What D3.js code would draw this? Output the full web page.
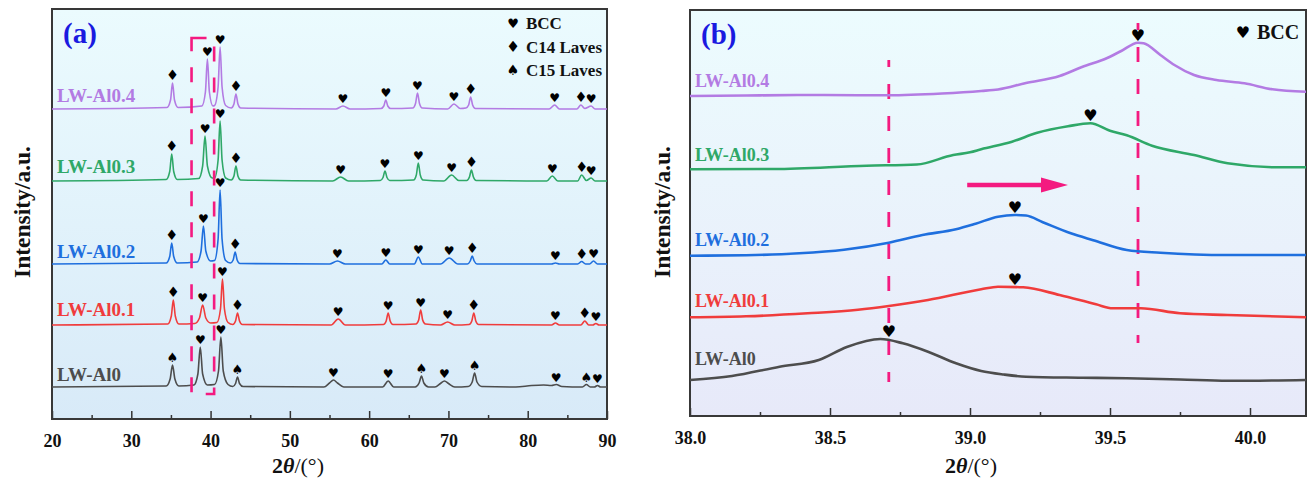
<!doctype html>
<html>
<head>
<meta charset="utf-8">
<title>XRD LW-Al</title>
<style>
body { margin:0; background:#fff; }
svg { display:block; }
text { font-family:"Liberation Serif","Times New Roman",serif; font-weight:bold; }
.glyph { font-family:"DejaVu Sans",sans-serif; font-weight:normal; }
</style>
</head>
<body>
<svg width="1312" height="479" id="chart"></svg>
<script src="https://d3js.org/d3.v7.min.js"></script>
<script>
// series names / colours (bottom to top)
var names  = ["LW-Al0", "LW-Al0.1", "LW-Al0.2", "LW-Al0.3", "LW-Al0.4"];
var colors = ["#4d4d4d", "#f03c3c", "#1f6fde", "#2fa868", "#b37be3"];

// (a) full scans: [2theta, intensity above own baseline]
var a_Al0 = [[20,0],[34.4,1],[34.9,8],[35.2,22],[35.5,8],[36,1],[37.9,2],[38.4,13],[38.7,40],[39,13],[39.6,2],
  [40.5,2.5],[41,16],[41.3,50],[41.6,16],[42.2,2.5],[42.8,0.5],[43.15,3.5],[43.4,10],[43.65,3.5],[44.1,0.5],
  [54.3,0],[55,4],[55.5,7],[56,4],[56.8,0],[61.7,0],[62.4,6],[63.1,0],[65.8,0],[66.3,4],[66.6,11],[66.9,4],[67.5,0],
  [68.3,0],[69,3.5],[69.5,6],[70,3.5],[70.8,0],[72.5,0.5],[73,5],[73.3,14],[73.6,5],[74.2,0.5],
  [78.5,0],[80.5,1.5],[82,2],[83,1.5],[83.6,2.5],[84.3,0.5],[86.9,0],[87.4,2.5],[87.9,0],[88.4,0],[88.8,1.5],[89.2,0],[90,0]];
var a_Al01 = [[20,0],[34.6,1],[35.05,9],[35.3,25],[35.55,9],[36,1],[38,1.5],[38.6,7],[39,20],[39.4,7],[40,2],
  [40.8,2.5],[41.25,16],[41.5,46],[41.75,16],[42.2,2.5],[42.8,0.5],[43.15,4],[43.4,12],[43.65,4],[44,0.5],
  [55.2,0],[56.1,6],[57,0],[61.8,0.5],[62.15,4],[62.4,12],[62.65,4],[63,0.5],[65.9,1],[66.25,5],[66.5,15],[66.75,5],[67.1,1],
  [69,0],[69.9,3],[70.8,0],[72.6,0.5],[72.95,4],[73.2,12],[73.45,4],[73.8,0.5],
  [83,0],[83.5,2],[84,0],[86.7,0],[87.2,4],[87.7,0],[88.2,0],[88.6,1.5],[89,0],[90,0]];
var a_Al02 = [[20,0],[34.4,1],[34.85,7.5],[35.1,21],[35.35,7.5],[35.8,1],[38.3,2],[38.8,13],[39.1,38],[39.4,13],[40,3],
  [40.5,3.5],[40.95,25],[41.2,74],[41.45,25],[41.9,3.5],[42.5,1],[42.85,4],[43.1,12],[43.35,4],[43.7,0.5],
  [55,0],[56,3],[57,0],[61.6,0],[62.1,4],[62.6,0],[65.7,0],[66.2,7],[66.7,0],[69,0],[70.1,6],[71.2,0],
  [72.4,0],[72.75,3],[73,8],[73.25,3],[73.6,0],[83,0],[83.5,1],[84,0],[86.3,0],[86.8,2.5],[87.3,0],[87.8,0],[88.3,3],[88.8,0],[90,0]];
var a_Al03 = [[20,0],[34.4,1.5],[34.85,9.5],[35.1,27],[35.35,9.5],[35.8,1.5],[38.5,2.5],[39,15],[39.3,45],[39.6,15],[40.2,3],
  [40.5,3],[40.95,21],[41.2,60],[41.45,21],[41.9,3],[42.6,1],[42.95,5],[43.2,15],[43.45,5],[43.8,1],
  [55.4,0],[56.4,4],[57.4,0],[61.4,0.5],[61.75,3.5],[62,10],[62.25,3.5],[62.6,0.5],[65.6,1],[65.95,6],[66.2,18],[66.45,6],[66.8,1],
  [69.4,0],[70.4,6],[71.3,0.5],[72.3,0.5],[72.65,4],[72.9,11],[73.15,4],[73.5,0.5],
  [82.4,0],[83.1,5],[83.8,0],[86.3,0],[86.8,6],[87.4,0.5],[88,3],[88.5,0],[90,0]];
var a_Al04 = [[20,0],[34.5,1.5],[34.95,9],[35.2,26],[35.45,9],[35.9,1.5],[38.9,3],[39.35,17],[39.6,50],[39.85,17],[40.3,3],
  [40.5,3.5],[40.95,22],[41.2,62],[41.45,22],[41.9,3.5],[42.6,1],[42.95,5],[43.2,15],[43.45,5],[43.8,1],
  [55.8,0],[56.7,3],[57.6,0],[61.5,0.5],[61.85,3],[62.1,9],[62.35,3],[62.7,0.5],[65.5,1],[65.85,5.5],[66.1,16],[66.35,5.5],[66.7,1],
  [69.9,0],[70.7,5],[71.5,0.5],[72.2,1],[72.55,4],[72.8,12],[73.05,4],[73.4,0.5],
  [82.7,0],[83.4,4],[84,0],[86.2,0],[86.7,4],[87.2,0.5],[88,3],[88.5,0],[90,0]];
var seriesA = [a_Al0, a_Al01, a_Al02, a_Al03, a_Al04];
var offsetsA = [32, 94, 155, 238, 310];
var labelLevelA = [38, 103, 161, 246, 317];

// phase markers per series: [2theta, phase]
var mk_Al0  = [[35.2,"C15"],[38.7,"BCC"],[41.3,"BCC"],[43.4,"C15"],[55.5,"BCC"],[62.4,"BCC"],[66.6,"C15"],[69.5,"BCC"],[73.3,"C15"],[83.6,"BCC"],[87.4,"C15"],[88.8,"BCC"]];
var mk_Al01 = [[35.3,"C14"],[39.0,"BCC"],[41.5,"BCC"],[43.4,"C14"],[56.1,"BCC"],[62.4,"BCC"],[66.5,"BCC"],[69.9,"BCC"],[73.2,"C14"],[83.5,"BCC"],[87.2,"C14"],[88.6,"BCC"]];
var mk_Al02 = [[35.1,"C14"],[39.1,"BCC"],[41.2,"BCC"],[43.1,"C14"],[56.0,"BCC"],[62.1,"BCC"],[66.2,"BCC"],[70.1,"BCC"],[73.0,"C14"],[83.5,"BCC"],[86.8,"C14"],[88.3,"BCC"]];
var mk_Al03 = [[35.1,"C14"],[39.3,"BCC"],[41.2,"BCC"],[43.2,"C14"],[56.4,"BCC"],[62.0,"BCC"],[66.2,"BCC"],[70.4,"BCC"],[72.9,"C14"],[83.1,"BCC"],[86.8,"C14"],[88.0,"BCC"]];
var mk_Al04 = [[35.2,"C14"],[39.6,"BCC"],[41.2,"BCC"],[43.2,"C14"],[56.7,"BCC"],[62.1,"BCC"],[66.1,"BCC"],[70.7,"BCC"],[72.8,"C14"],[83.4,"BCC"],[86.7,"C14"],[88.0,"BCC"]];
var markersA = [mk_Al0, mk_Al01, mk_Al02, mk_Al03, mk_Al04];

var phases = ["BCC", "C14", "C15"];
var phaseLabels = ["BCC", "C14 Laves", "C15 Laves"];
var phaseGlyph = {BCC:"\u2665", C14:"\u2666", C15:"\u2660"};
var glyphScale = {BCC:1, C14:1.2, C15:1.1};

var ticksA = [20, 30, 40, 50, 60, 70, 80, 90];

// (b) zoom on BCC(110): [2theta, intensity above own baseline]
var b_Al0  = [[38,0],[38.15,4],[38.32,13.3],[38.46,20],[38.56,33],[38.68,41],[38.76,36.7],[38.85,28.3],[38.95,16.7],[39.04,9],[39.12,5.5],[39.2,3.3],[39.4,2.3],[39.56,1.7],[39.75,0.5],[39.92,-0.8],[40.2,0]];
var b_Al01 = [[38,0],[38.2,1],[38.42,4],[38.6,7.5],[38.71,11.3],[38.85,17.3],[39.04,28],[39.1,30.6],[39.19,30],[39.32,22.3],[39.45,13],[39.51,9],[39.61,9],[39.75,4],[39.92,2.3],[40.2,0]];
var b_Al02 = [[38,0],[38.2,0.5],[38.39,2.4],[38.55,6],[38.71,13],[38.83,20.7],[38.95,26.5],[39.02,32],[39.1,39],[39.16,40.7],[39.2,40.2],[39.26,33.5],[39.36,22.4],[39.44,15.5],[39.56,5.7],[39.68,3],[39.92,0.7],[40.2,0.7]];
var b_Al03 = [[38,0],[38.3,0.3],[38.63,3.6],[38.81,4.8],[38.94,14.3],[39.0,17],[39.04,20],[39.15,27.6],[39.24,36.5],[39.35,43],[39.43,46],[39.5,38.5],[39.56,34],[39.65,23.5],[39.8,14.3],[39.92,6],[40.1,2],[40.2,2]];
var b_Al04 = [[38,0],[38.2,0.5],[38.4,1],[38.6,0.8],[38.71,0.7],[38.9,2.5],[39.04,5],[39.1,6.5],[39.2,13],[39.32,20],[39.4,29],[39.49,38],[39.54,45],[39.6,53.3],[39.62,52.7],[39.68,41],[39.73,31],[39.8,21],[39.88,16],[39.98,12.7],[40.08,6.7],[40.2,4.3]];
var seriesB = [b_Al0, b_Al01, b_Al02, b_Al03, b_Al04];
var offsetsB = [36, 98.7, 160.3, 246.7, 320];
var labelLevelB = [51, 109, 170, 255, 329];
var peaksB = [38.71, 39.16, 39.16, 39.43, 39.6];
var refLinesB = [[38.71, 356, 34], [39.6, 393, 73]];   // 2theta, top, bottom (intensity units)
var shiftArrow = [38.99, 39.35, 231];

var ticksB = [38.0, 38.5, 39.0, 39.5, 40.0];

var svg = d3.select("#chart");
var defs = svg.append("defs");
var pink = "#f41a80";

function grad(id, c0, c1) {
  var g = defs.append("linearGradient").attr("id", id).attr("x1", 0).attr("y1", 0).attr("x2", 0).attr("y2", 1);
  g.append("stop").attr("offset", "0%").attr("stop-color", c0);
  g.append("stop").attr("offset", "100%").attr("stop-color", c1);
}
grad("bgA", "#ebfbfe", "#d8eaf8");
grad("bgB", "#ecfcfe", "#e7e9f9");

function panel(opt) {
  var x = d3.scaleLinear().domain(opt.xdom).range([opt.x0, opt.x1]);
  var y = d3.scaleLinear().domain([0, opt.y0 - opt.y1]).range([opt.y0, opt.y1]);
  var g = svg.append("g");
  g.append("rect").attr("x", opt.x0).attr("y", opt.y1).attr("width", opt.x1 - opt.x0).attr("height", opt.y0 - opt.y1)
    .attr("fill", "url(#" + opt.bg + ")");
  defs.append("clipPath").attr("id", opt.id + "clip").append("rect")
    .attr("x", opt.x0).attr("y", opt.y1).attr("width", opt.x1 - opt.x0).attr("height", opt.y0 - opt.y1);

  // axis with inward ticks
  var axis = d3.axisBottom(x).tickValues(opt.ticks).tickSize(-8).tickPadding(15).tickFormat(opt.fmt);
  var ax = g.append("g").attr("transform", "translate(0," + opt.y0 + ")").call(axis)
    .attr("font-family", "Liberation Serif");
  ax.select(".domain").remove();
  ax.selectAll(".tick line").attr("stroke", "#333").attr("stroke-width", 1.5);
  ax.selectAll(".tick text").attr("font-size", 18).attr("fill", "#111")
    .style("font-family", "Liberation Serif").style("font-weight", "bold");
  var minor = d3.axisBottom(x).tickValues(opt.minor).tickSize(-4).tickFormat("");
  var mx = g.append("g").attr("transform", "translate(0," + opt.y0 + ")").call(minor);
  mx.select(".domain").remove();
  mx.selectAll(".tick line").attr("stroke", "#333").attr("stroke-width", 1.5);

  g.append("rect").attr("x", opt.x0).attr("y", opt.y1).attr("width", opt.x1 - opt.x0).attr("height", opt.y0 - opt.y1)
    .attr("fill", "none").attr("stroke", "#383838").attr("stroke-width", 2);
  return {x: x, y: y, g: g};
}

function glyph(g, px, py, ph, size) {
  g.append("text").attr("class", "glyph").attr("x", px).attr("y", py)
    .attr("text-anchor", "middle").attr("font-size", size * glyphScale[ph]).attr("fill", "#000").text(phaseGlyph[ph]);
}

function peakTop(data, t, w) {
  return d3.max(data.filter(function(d) { return Math.abs(d[0] - t) <= w; }), function(d) { return d[1]; });
}

// ---------- panel (a)
var A = panel({id: "a", xdom: [20, 90], x0: 52, x1: 607, y0: 419, y1: 9, bg: "bgA",
  ticks: ticksA, minor: [25, 35, 45, 55, 65, 75, 85], fmt: d3.format("d")});

var lineA = function(off) {
  return d3.line().x(function(d) { return A.x(d[0]); }).y(function(d) { return A.y(d[1] + off); }).curve(d3.curveMonotoneX);
};
var ga = A.g.append("g").attr("clip-path", "url(#aclip)");
seriesA.forEach(function(s, i) {
  ga.append("path").datum(s).attr("d", lineA(offsetsA[i])).attr("fill", "none")
    .attr("stroke", colors[i]).attr("stroke-width", 1.6).attr("stroke-linejoin", "round");
});
markersA.forEach(function(list, i) {
  list.forEach(function(m) {
    var top = peakTop(seriesA[i], m[0], 0.35);
    glyph(A.g, A.x(m[0]), A.y(top + offsetsA[i]) - 3, m[1], 12);
  });
});
names.forEach(function(n, i) {
  A.g.append("text").attr("x", 57).attr("y", A.y(labelLevelA[i])).attr("font-size", 19)
    .attr("fill", colors[i]).text(n);
});
// dashed box around BCC(110)
A.g.append("rect").attr("x", A.x(37.6)).attr("y", A.y(381)).attr("width", A.x(40.45) - A.x(37.6))
  .attr("height", A.y(25) - A.y(381)).attr("fill", "none").attr("stroke", pink)
  .attr("stroke-width", 2.6).attr("stroke-dasharray", "15,16");
// legend
phases.forEach(function(p, k) {
  var cy = 23 + k * 23.6;
  glyph(A.g, 513, cy + 5, p, 13);
  A.g.append("text").attr("x", 526).attr("y", cy + 6).attr("font-size", 17).attr("fill", "#111").text(phaseLabels[k]);
});
A.g.append("text").attr("x", 63).attr("y", 43).attr("font-size", 29).attr("fill", "#1a1ae0").text("(a)");

// ---------- panel (b)
var B = panel({id: "b", xdom: [38, 40.2], x0: 690, x1: 1306, y0: 416, y1: 10, bg: "bgB",
  ticks: ticksB, minor: [38.25, 38.75, 39.25, 39.75], fmt: d3.format(".1f")});

var lineB = function(off) {
  return d3.line().x(function(d) { return B.x(d[0]); }).y(function(d) { return B.y(d[1] + off); }).curve(d3.curveMonotoneX);
};
refLinesB.forEach(function(r) {
  B.g.append("line").attr("x1", B.x(r[0])).attr("x2", B.x(r[0])).attr("y1", B.y(r[1])).attr("y2", B.y(r[2]))
    .attr("stroke", pink).attr("stroke-width", 2.8).attr("stroke-dasharray", "15,17").attr("stroke-dashoffset", 8);
});
var gb = B.g.append("g").attr("clip-path", "url(#bclip)");
seriesB.forEach(function(s, i) {
  gb.append("path").datum(s).attr("d", lineB(offsetsB[i])).attr("fill", "none")
    .attr("stroke", colors[i]).attr("stroke-width", 2.6).attr("stroke-linejoin", "round");
});
peaksB.forEach(function(t, i) {
  var top = peakTop(seriesB[i], t, 0.06);
  glyph(B.g, B.x(t), B.y(top + offsetsB[i]) - 2, "BCC", 16);
});
names.forEach(function(n, i) {
  B.g.append("text").attr("x", 695).attr("y", B.y(labelLevelB[i])).attr("font-size", 18)
    .attr("fill", colors[i]).text(n);
});
// shift arrow
var ay = B.y(shiftArrow[2]);
B.g.append("line").attr("x1", B.x(shiftArrow[0])).attr("x2", B.x(shiftArrow[1]) - 20).attr("y1", ay).attr("y2", ay)
  .attr("stroke", pink).attr("stroke-width", 4.5);
B.g.append("path").attr("fill", pink)
  .attr("d", "M" + (B.x(shiftArrow[1]) - 27) + "," + (ay - 7.5) + "L" + B.x(shiftArrow[1]) + "," + ay + "L" + (B.x(shiftArrow[1]) - 27) + "," + (ay + 7.5) + "Z");
glyph(B.g, 1243, 38, "BCC", 16);
B.g.append("text").attr("x", 1257).attr("y", 39).attr("font-size", 20).attr("fill", "#111").text("BCC");
B.g.append("text").attr("x", 701).attr("y", 44).attr("font-size", 29).attr("fill", "#1a1ae0").text("(b)");

// axis titles
function titles(yx, xx) {
  svg.append("text").attr("transform", "translate(" + yx + ",212) rotate(-90)").attr("text-anchor", "middle")
    .attr("font-size", 23.5).attr("fill", "#111").text("Intensity/a.u.");
  var t = svg.append("text").attr("x", xx).attr("y", 473).attr("font-size", 22).attr("fill", "#111");
  t.append("tspan").text("2");
  t.append("tspan").attr("font-style", "italic").text("\u03b8");
  t.append("tspan").attr("font-weight", "normal").text("/(\u00b0)");
}
titles(30, 272);
titles(670, 945);
</script>
</body>
</html>
